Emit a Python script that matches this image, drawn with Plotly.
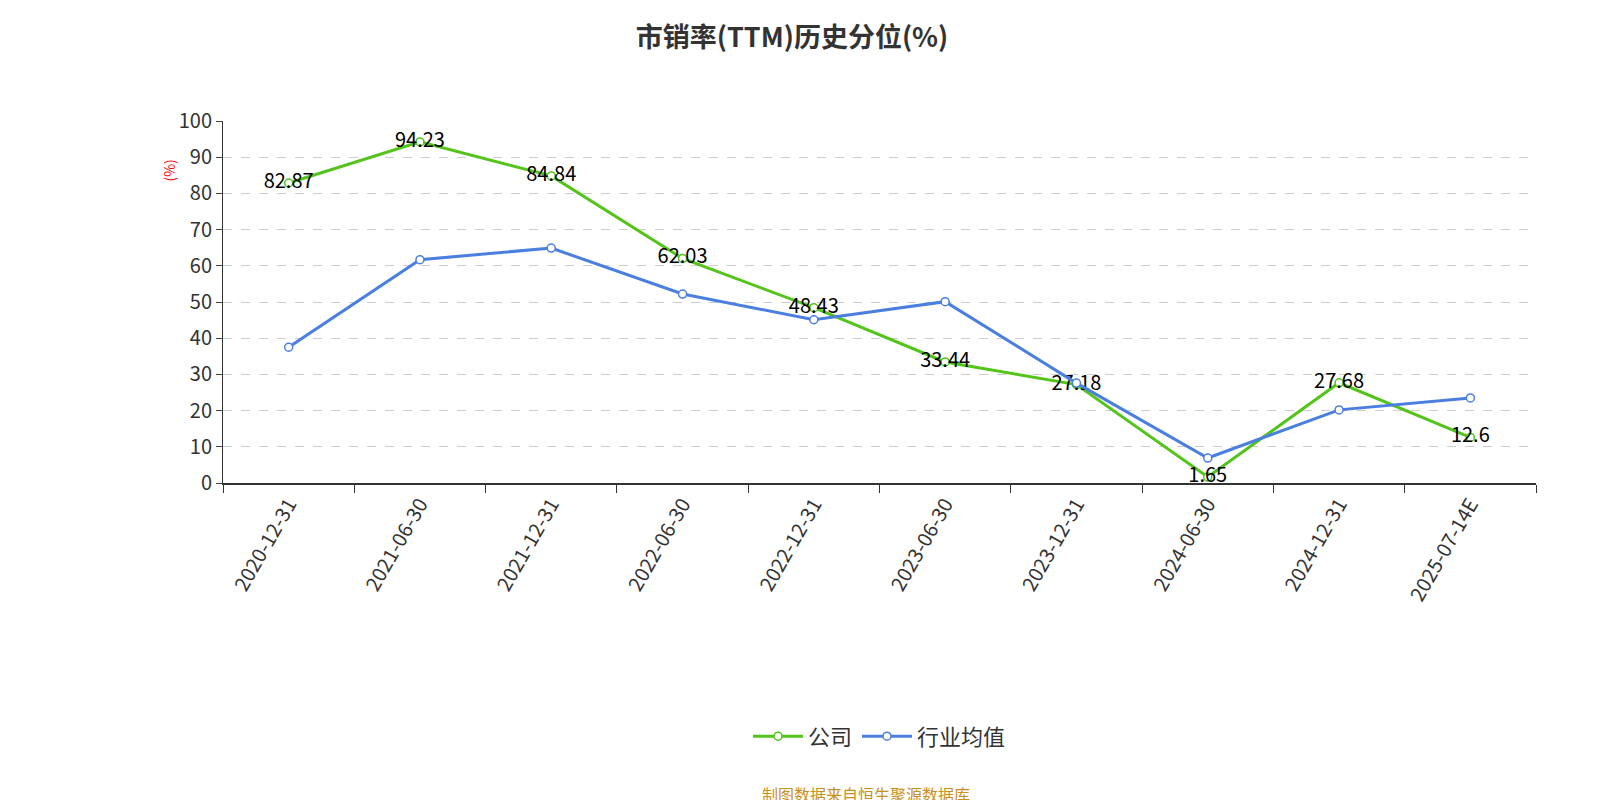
import plotly.graph_objects as go

categories = ["2020-12-31","2021-06-30","2021-12-31","2022-06-30","2022-12-31",
              "2023-06-30","2023-12-31","2024-06-30","2024-12-31","2025-07-14E"]
company = [82.87, 94.23, 84.84, 62.03, 48.43, 33.44, 27.18, 1.65, 27.68, 12.6]
industry = [37.5, 61.7, 64.9, 52.2, 45.1, 50.1, 27.6, 6.9, 20.2, 23.5]
xs = list(range(len(categories)))

fig = go.Figure()
fig.add_trace(go.Scatter(x=xs, y=company, name="公司", mode="lines+markers+text",
    text=[str(v) for v in company], textposition="middle center",
    textfont=dict(size=20, color="#000"),
    line=dict(color="#52c41a", width=3),
    marker=dict(size=8, color="white", line=dict(color="#52c41a", width=1.5))))
fig.add_trace(go.Scatter(x=xs, y=industry, name="行业均值", mode="lines+markers",
    line=dict(color="#4a7fe0", width=3),
    marker=dict(size=8, color="white", line=dict(color="#4a7fe0", width=1.5))))

fig.update_layout(
    width=1600, height=800, plot_bgcolor="white", paper_bgcolor="white",
    font=dict(family="Noto Sans CJK SC", color="#333"),
    margin=dict(l=215, r=72, t=113, b=325),
    title=dict(text="<b>市销率(TTM)历史分位(%)</b>", x=0.49, y=0.975, xanchor="center",
               font=dict(size=27, color="#333")),
    showlegend=True,
    legend=dict(orientation="h", x=0.5, xanchor="center", y=-0.7, yanchor="middle",
                font=dict(size=22), itemwidth=50),
    xaxis=dict(range=[-0.5, 9.5], tickvals=xs, ticktext=categories, tickangle=-60,
               tickfont=dict(size=20, color="#333"), showgrid=False, showline=True,
               linecolor="#333", linewidth=1.5, ticks="", zeroline=False,
               minor=dict(tick0=0.5, dtick=1, ticks="outside", ticklen=8, tickcolor="#333")),
    yaxis=dict(range=[0, 100], dtick=10, tickfont=dict(size=20, color="#333"),
               showgrid=True, gridcolor="#ccc", griddash="dash", showline=True,
               linecolor="#333", ticks="outside", ticklen=6, zeroline=False),
    annotations=[
        dict(text="(%)", x=-0.05, y=0.9, xref="paper", yref="paper", textangle=-90,
             showarrow=False, font=dict(size=14, color="red")),
        dict(text="制图数据来自恒生聚源数据库", x=0.49, y=-0.86, xref="paper", yref="paper",
             showarrow=False, yanchor="middle", font=dict(size=16, color="#c8901c")),
    ],
)
fig.write_html("out.html")
